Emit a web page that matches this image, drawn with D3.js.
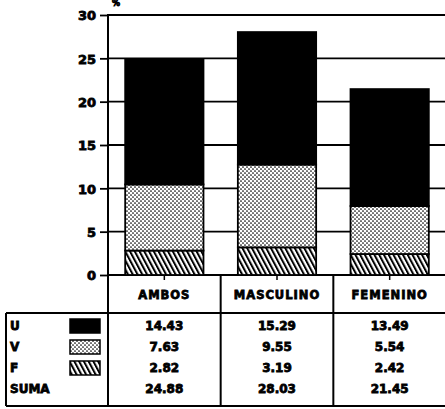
<!DOCTYPE html>
<html><head><meta charset="utf-8">
<script src="https://cdn.jsdelivr.net/npm/d3@7"></script>
<style>
html,body{margin:0;padding:0;background:#fff;}
svg text{font-family:"DejaVu Sans",sans-serif;font-weight:bold;fill:#000;stroke:#000;stroke-width:0.8px;}
</style></head>
<body>
<svg id="chart" width="445" height="409"></svg>
<script>
const categories = ["AMBOS", "MASCULINO", "FEMENINO"];
const seriesNames = ["U", "V", "F"];
const U = [14.43, 15.29, 13.49];
const V = [7.63, 9.55, 5.54];
const F = [2.82, 3.19, 2.42];
const SUMA = [24.88, 28.03, 21.45];
const yTicks = [0, 5, 10, 15, 20, 25, 30];
const rowLabels = ["U", "V", "F", "SUMA"];

const svg = d3.select("#chart");
const W = 445;
const plotLeft = 108, plotRight = 446, plotTop = 15, plotBottom = 275;
const tableMid = 313, tableBottom = 406, tableLeft = 6;

const defs = svg.append("defs");
const dots = defs.append("pattern").attr("id", "dots").attr("patternUnits", "userSpaceOnUse")
  .attr("width", 4).attr("height", 4);
dots.append("rect").attr("width", 4).attr("height", 4).attr("fill", "#fff");
dots.append("circle").attr("cx", 1).attr("cy", 1).attr("r", 0.85).attr("fill", "#000");
dots.append("circle").attr("cx", 3).attr("cy", 3).attr("r", 0.85).attr("fill", "#000");
const hatch = defs.append("pattern").attr("id", "hatch").attr("patternUnits", "userSpaceOnUse")
  .attr("width", 4.2).attr("height", 10).attr("patternTransform", "rotate(-28)");
hatch.append("rect").attr("width", 4.2).attr("height", 10).attr("fill", "#fff");
hatch.append("rect").attr("width", 2).attr("height", 10).attr("fill", "#000");

const fills = { U: "#000", V: "url(#dots)", F: "url(#hatch)" };

const x = d3.scaleBand().domain(categories).range([plotLeft, plotRight])
  .paddingInner(0.305).paddingOuter(0.1525);
const y = d3.scaleLinear().domain([0, 30]).range([plotBottom, plotTop]);

// gridlines
svg.append("g").selectAll("line").data(yTicks).join("line")
  .attr("x1", plotLeft).attr("x2", W).attr("y1", d => y(d)).attr("y2", d => y(d))
  .attr("stroke", "#000").attr("stroke-width", 1.8);

// stacked bars
const data = categories.map((c, i) => ({ cat: c, U: U[i], V: V[i], F: F[i] }));
const stack = d3.stack().keys(["F", "V", "U"])(data);
const gBars = svg.append("g");
stack.forEach(layer => {
  gBars.append("g").selectAll("rect").data(layer).join("rect")
    .attr("x", d => x(d.data.cat))
    .attr("width", x.bandwidth())
    .attr("y", d => y(d[1]))
    .attr("height", d => y(d[0]) - y(d[1]))
    .attr("fill", fills[layer.key])
    .attr("stroke", "#000").attr("stroke-width", 1.8);
});

// y axis
const yAxis = d3.axisLeft(y).tickValues(yTicks).tickSize(8).tickPadding(4);
const gy = svg.append("g").attr("transform", `translate(${plotLeft},0)`).call(yAxis);
gy.select(".domain").remove();
gy.selectAll(".tick line").attr("stroke", "#000").attr("stroke-width", 1.8);
gy.selectAll(".tick text").style("font-size", "13px").attr("dy", "0.36em");
svg.append("line").attr("x1", plotLeft).attr("x2", plotLeft).attr("y1", plotTop - 1).attr("y2", tableBottom)
  .attr("stroke", "#000").attr("stroke-width", 2);
svg.append("text").attr("x", 112).attr("y", 6).style("font-size", "8px").text("%");

// category ticks below baseline
svg.append("g").selectAll("line").data(categories).join("line")
  .attr("x1", d => x(d) + x.bandwidth() / 2).attr("x2", d => x(d) + x.bandwidth() / 2)
  .attr("y1", plotBottom).attr("y2", plotBottom + 5)
  .attr("stroke", "#000").attr("stroke-width", 1.5);

// table lines
const colBounds = categories.slice(1).map(c => x(c) - x.step() * x.paddingInner() / 2);
svg.append("g").selectAll("line").data(colBounds).join("line")
  .attr("x1", d => d).attr("x2", d => d).attr("y1", plotBottom).attr("y2", tableBottom)
  .attr("stroke", "#000").attr("stroke-width", 2);
svg.append("line").attr("x1", tableLeft).attr("x2", W).attr("y1", tableMid).attr("y2", tableMid)
  .attr("stroke", "#000").attr("stroke-width", 2);
svg.append("line").attr("x1", tableLeft).attr("x2", W).attr("y1", tableBottom).attr("y2", tableBottom)
  .attr("stroke", "#000").attr("stroke-width", 2);
svg.append("line").attr("x1", tableLeft).attr("x2", tableLeft).attr("y1", tableMid).attr("y2", tableBottom)
  .attr("stroke", "#000").attr("stroke-width", 2);

// header
svg.append("g").selectAll("text").data(categories).join("text")
  .attr("x", d => x(d) + x.bandwidth() / 2).attr("y", 295).attr("dy", "0.36em")
  .attr("text-anchor", "middle").style("font-size", "11.5px").style("letter-spacing", "1px")
  .text(d => d);

// rows
const rowY = d3.scalePoint().domain(rowLabels).range([326, 389]);
const rowValues = { U: U, V: V, F: F, SUMA: SUMA };
svg.append("g").selectAll("text").data(rowLabels).join("text")
  .attr("x", 10).attr("y", d => rowY(d)).attr("dy", "0.36em")
  .style("font-size", "12px").text(d => d);
svg.append("g").selectAll("rect").data(seriesNames).join("rect")
  .attr("x", 70).attr("width", 30).attr("y", d => rowY(d) - 7).attr("height", 14)
  .attr("fill", d => fills[d]).attr("stroke", "#000").attr("stroke-width", 1.5);
rowLabels.forEach(r => {
  svg.append("g").selectAll("text").data(categories).join("text")
    .attr("x", d => x(d) + x.bandwidth() / 2).attr("y", rowY(r)).attr("dy", "0.36em")
    .attr("text-anchor", "middle").style("font-size", "12px")
    .text((d, i) => rowValues[r][i].toFixed(2));
});
</script>
</body></html>
